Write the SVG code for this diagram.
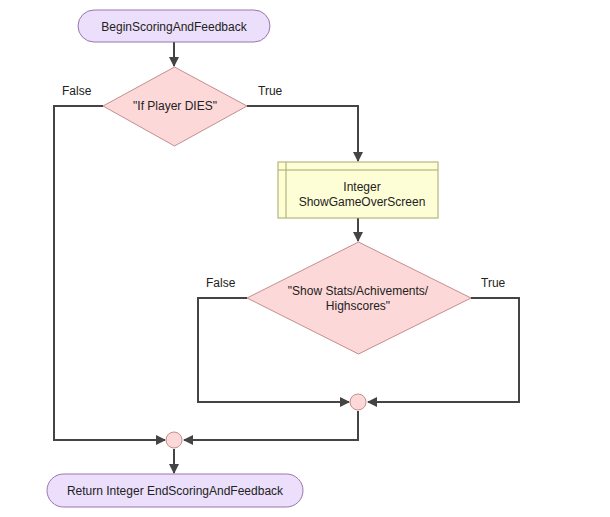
<svg xmlns="http://www.w3.org/2000/svg" width="610" height="517" viewBox="0 0 610 517">
<style>
.term{fill:#ecdffb;stroke:#9a74b0;stroke-width:1}
.dec{fill:#fdd8d8;stroke:#c48e8e;stroke-width:1}
.proc{fill:#fefed6;stroke:#a8a86a;stroke-width:1}
.join{fill:#fdd8d8;stroke:#c48e8e;stroke-width:1}
.t{font-family:"Liberation Sans",Arial,sans-serif;font-size:12px;fill:#222;text-anchor:middle}
.lbl{font-family:"Liberation Sans",Arial,sans-serif;font-size:12px;fill:#222}
.c{fill:none;stroke:#444;stroke-width:2}
</style>
<defs>
<marker id="ah" markerWidth="10" markerHeight="10" refX="9" refY="5" orient="auto" markerUnits="userSpaceOnUse">
<path d="M0,0 L10,5 L0,10 Z" fill="#444"/>
</marker>
</defs>
<rect width="610" height="517" fill="#fff"/>
<g id="connectors">
<path class="c" d="M174,42 V66" marker-end="url(#ah)"/>
<path class="c" d="M103,106 H54 V440 H165" marker-end="url(#ah)"/>
<path class="c" d="M247,106 H358 V161" marker-end="url(#ah)"/>
<path class="c" d="M358,218 V241" marker-end="url(#ah)"/>
<path class="c" d="M247,298 H198 V402 H349" marker-end="url(#ah)"/>
<path class="c" d="M471,298 H519 V402 H368" marker-end="url(#ah)"/>
<path class="c" d="M358,411 V440 H184" marker-end="url(#ah)"/>
<path class="c" d="M174,449 V473" marker-end="url(#ah)"/>
</g>
<g id="start">
<rect class="term" x="78" y="10" width="192" height="32" rx="16"/>
<text class="t" x="174" y="30.5">BeginScoringAndFeedback</text>
</g>
<g id="dec1">
<polygon class="dec" points="174.5,67 247,106 174.5,146 103,106"/>
<text class="t" x="175" y="110">"If Player DIES"</text>
<text class="lbl" x="62" y="95">False</text>
<text class="lbl" x="258" y="95">True</text>
</g>
<g id="proc">
<rect class="proc" x="278" y="162" width="160" height="56"/>
<line x1="286" y1="162" x2="286" y2="218" stroke="#a8a86a"/>
<line x1="278" y1="170" x2="438" y2="170" stroke="#a8a86a"/>
<text class="t" x="362" y="191">Integer</text>
<text class="t" x="362" y="206">ShowGameOverScreen</text>
</g>
<g id="dec2">
<polygon class="dec" points="358.5,242 471,298 358.5,354 247,298"/>
<text class="t" x="358" y="295">"Show Stats/Achivements/</text>
<text class="t" x="358" y="310">Highscores"</text>
<text class="lbl" x="206" y="287">False</text>
<text class="lbl" x="481" y="287">True</text>
</g>
<g id="join1">
<circle class="join" cx="358" cy="402" r="8"/>
</g>
<g id="join2">
<circle class="join" cx="174" cy="440" r="8"/>
</g>
<g id="end">
<rect class="term" x="47" y="474" width="256" height="33" rx="16.5"/>
<text class="t" x="175" y="495">Return Integer EndScoringAndFeedback</text>
</g>
</svg>
